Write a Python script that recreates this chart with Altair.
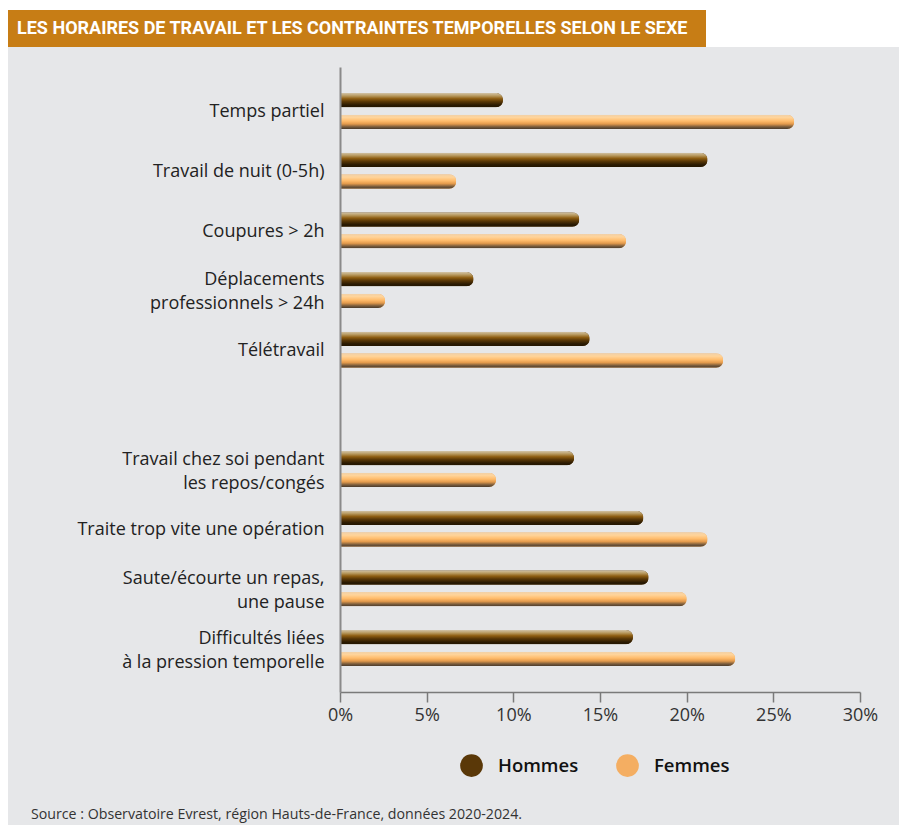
import altair as alt
import pandas as pd

# ---- data ----
categories = [
    "Temps partiel",
    "Travail de nuit (0-5h)",
    "Coupures > 2h",
    "Déplacements|professionnels > 24h",
    "Télétravail",
    "Travail chez soi pendant|les repos/congés",
    "Traite  trop vite une opération",
    "Saute/écourte un repas,|une pause",
    "Difficultés liées|à la pression temporelle",
]
hommes = [9.4, 21.2, 13.8, 7.7, 14.4, 13.5, 17.5, 17.8, 16.9]
femmes = [26.2, 6.7, 16.5, 2.6, 22.1, 9.0, 21.2, 20.0, 22.8]
series = ["Hommes", "Femmes"]
x_ticks = [0, 5, 10, 15, 20, 25, 30]

title_text = "LES HORAIRES DE TRAVAIL ET LES CONTRAINTES TEMPORELLES SELON LE SEXE"
source_text = "Source : Observatoire Evrest, région Hauts-de-France, données 2020-2024."

# blank slot between the two groups
y_domain = categories[:5] + [" "] + categories[5:]

rows = []
for c, h, f in zip(categories, hommes, femmes):
    rows.append({"Catégorie": c, "Sexe": "Hommes", "Valeur": h})
    rows.append({"Catégorie": c, "Sexe": "Femmes", "Valeur": f})
df = pd.DataFrame(rows)

W, H = 891, 817
FONT = "Open Sans"

x_enc = alt.X(
    "Valeur:Q",
    scale=alt.Scale(domain=[0, 30], range=[332, 852], nice=False, zero=True),
    axis=alt.Axis(
        values=x_ticks, labelExpr="datum.value + '%'", offset=-133, grid=False,
        domainColor="#7a7a7a", domainWidth=1.5, tickColor="#7a7a7a", tickWidth=1.5,
        tickSize=10, labelFontSize=18, labelColor="#333333", labelFont=FONT,
        labelPadding=4, labelFlush=False, labelOverlap=False, title=None, zindex=2,
    ),
)
y_enc = alt.Y(
    "Catégorie:N",
    scale=alt.Scale(domain=y_domain, range=[59, 684], paddingInner=0, paddingOuter=0.237),
    axis=alt.Axis(
        offset=-332, ticks=False, grid=False, domainColor="#8a8a8a", domainWidth=2,
        labelExpr="split(datum.label, '|')", labelFontSize=18, labelLineHeight=24,
        labelColor="#222222", labelFont=FONT, labelPadding=16, labelAlign="right",
        labelBaseline="middle", labelLimit=400, title=None, zindex=2,
        labelOffset={"condition": {"test": "indexof(datum.value, '|') >= 0", "value": -9.5}, "value": 1.5},
    ),
)
yoff_enc = alt.YOffset(
    "Sexe:N",
    scale=alt.Scale(domain=series, paddingInner=0.34, paddingOuter=0.545),
)

base = alt.Chart(df)

legend_bars = base.mark_bar(cornerRadiusEnd=7).encode(
    x=x_enc, y=y_enc, yOffset=yoff_enc,
    color=alt.Color(
        "Sexe:N",
        scale=alt.Scale(domain=series, range=["#5a3808", "#f4ae62"]),
        legend=alt.Legend(
            orient="none", legendX=452, legendY=746, direction="horizontal",
            title=None, symbolType="circle", symbolSize=515, symbolStrokeWidth=0,
            labelFontSize=18.5, labelFont=FONT, labelColor="#111111", labelFontWeight=600,
            columnPadding=37, labelOffset=15,
        ),
    ),
)

grad_h = alt.LinearGradient(
    gradient="linear", x1=0, x2=0, y1=0, y2=1,
    stops=[
        alt.GradientStop(offset=0, color="#d2c4a8"),
        alt.GradientStop(offset=0.2, color="#b89a60"),
        alt.GradientStop(offset=0.4, color="#8e5e12"),
        alt.GradientStop(offset=0.6, color="#5a3806"),
        alt.GradientStop(offset=0.85, color="#2a1a02"),
        alt.GradientStop(offset=1, color="#241600"),
    ],
)
grad_f = alt.LinearGradient(
    gradient="linear", x1=0, x2=0, y1=0, y2=1,
    stops=[
        alt.GradientStop(offset=0, color="#f0d0a8"),
        alt.GradientStop(offset=0.2, color="#ffd49a"),
        alt.GradientStop(offset=0.45, color="#ffbb6a"),
        alt.GradientStop(offset=0.65, color="#e39a4c"),
        alt.GradientStop(offset=0.85, color="#7a5c3c"),
        alt.GradientStop(offset=1, color="#4a3b2c"),
    ],
)

bars_h = base.transform_filter(alt.datum.Sexe == "Hommes").mark_bar(
    cornerRadiusEnd=7, color=grad_h
).encode(x=x_enc, y=y_enc, yOffset=yoff_enc)
bars_f = base.transform_filter(alt.datum.Sexe == "Femmes").mark_bar(
    cornerRadiusEnd=7, color=grad_f
).encode(x=x_enc, y=y_enc, yOffset=yoff_enc)

one = pd.DataFrame({"t": [title_text], "s": [source_text]})
panel = alt.Chart(one).mark_rect(color="#e6e7e9").encode(
    x=alt.value(0), x2=alt.value(W), y=alt.value(39), y2=alt.value(H)
)
band = alt.Chart(one).mark_rect(color="#c77d15").encode(
    x=alt.value(0), x2=alt.value(698), y=alt.value(2), y2=alt.value(39)
)
title = alt.Chart(one).mark_text(
    align="left", baseline="middle", color="white", fontSize=18, fontWeight="bold", font="Roboto"
).encode(text="t:N", x=alt.value(9), y=alt.value(21))
source = alt.Chart(one).mark_text(
    align="left", baseline="middle", color="#333333", fontSize=14.2, font=FONT
).encode(text="s:N", x=alt.value(23), y=alt.value(807))

chart = alt.layer(panel, band, title, source, legend_bars, bars_h, bars_f).properties(
    width=W, height=H, autosize=alt.AutoSizeParams(type="none"), padding=0,
    background="white",
).configure_view(stroke=None)

chart.save("out.html", embed_options={"renderer": "svg", "actions": False})
